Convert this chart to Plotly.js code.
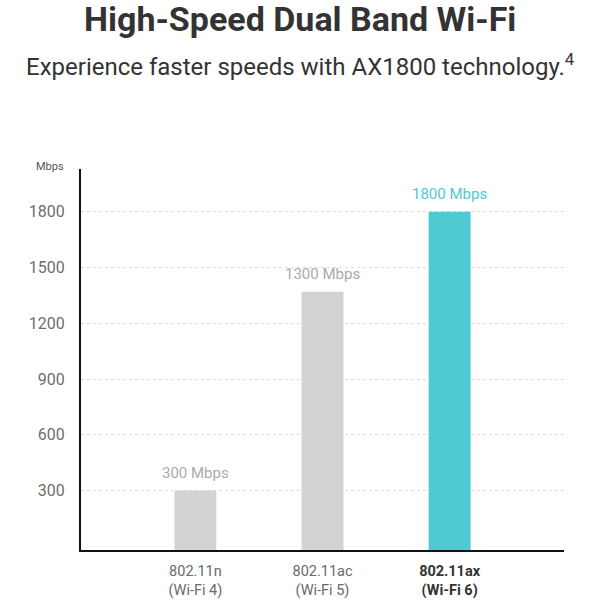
<!DOCTYPE html>
<html>
<head>
<meta charset="utf-8">
<script src="https://cdn.plot.ly/plotly-3.0.1.min.js"></script>
<style>html,body{margin:0;padding:0;background:#fff;}#chart{width:600px;height:600px;}</style>
</head>
<body>
<div id="chart"></div>
<script>
const categories = ["802.11n", "802.11ac", "802.11ax"];
const tickLabels = ["802.11n<br>(Wi-Fi 4)", "802.11ac<br>(Wi-Fi 5)", "<b><span style=\"color:#333\">802.11ax<br>(Wi-Fi 6)</span></b>"];
const speeds = [300, 1370, 1800];
const valueLabels = ["300 Mbps", "1300 Mbps", "1800 Mbps"];
const barColors = ["#d3d3d3", "#d3d3d3", "#4ecad3"];
const labelColors = ["#aaaaaa", "#aaaaaa", "#4ecad3"];
const yTicks = [300, 600, 900, 1200, 1500, 1800];
const yRange = [-20, 2030];

const trace = {
  type: "bar",
  x: categories,
  y: speeds.map(v => v - yRange[0]),
  base: yRange[0],
  width: 0.33,
  marker: {color: barColors},
  hoverinfo: "none"
};

const barLabels = categories.map((c, i) => ({
  text: valueLabels[i], x: c, y: speeds[i], xref: "x", yref: "y",
  xanchor: "center", yanchor: "bottom", yshift: 7, showarrow: false,
  font: {family: "Roboto", size: 15, color: labelColors[i]}
}));

const layout = {
  width: 600, height: 600,
  margin: {l: 81, r: 36, t: 169, b: 50},
  paper_bgcolor: "#fff", plot_bgcolor: "#fff",
  showlegend: false,
  font: {family: "Roboto", color: "#666"},
  xaxis: {
    type: "category",
    range: [-0.9, 2.9],
    tickvals: categories,
    ticktext: tickLabels,
    tickfont: {family: "Roboto", size: 14.5, color: "#6a6a6a"},
    ticklabelstandoff: 7,
    showline: true, linecolor: "#111", linewidth: 2,
    showgrid: false, ticks: "", fixedrange: true
  },
  yaxis: {
    range: yRange,
    tickvals: yTicks,
    ticktext: yTicks.map(String),
    tickfont: {family: "Roboto", size: 16, color: "#6e6e6e"},
    ticklabelstandoff: 11,
    showline: true, linecolor: "#111", linewidth: 2,
    showgrid: true, gridcolor: "#dcdcdc", gridwidth: 1, griddash: "dot",
    zeroline: false, ticks: "", fixedrange: true
  },
  annotations: [
    {text: "High-Speed Dual Band Wi-Fi", xref: "paper", yref: "paper", x: 0.5, y: 1, xanchor: "center", yanchor: "middle",
     yshift: 169 - 19, xshift: (300 - (81 + 483 / 2)), showarrow: false,
     font: {family: "Roboto", size: 34, color: "#333", weight: "bold"}},
    {text: "Experience faster speeds with AX1800 technology.<sup style=\"font-size:60%\">4</sup>", xref: "paper", yref: "paper", x: 0.5, y: 1, xanchor: "center", yanchor: "middle",
     yshift: 169 - 65, xshift: (300 - (81 + 483 / 2)), showarrow: false,
     font: {family: "Roboto", size: 24, color: "#333"}},
    {text: "Mbps", xref: "paper", yref: "paper", x: 0, y: 1, xanchor: "right", yanchor: "middle",
     xshift: -15, yshift: 3, showarrow: false,
     font: {family: "Roboto", size: 11, color: "#555"}}
  ].concat(barLabels)
};

Plotly.newPlot("chart", [trace], layout, {displayModeBar: false, staticPlot: true});
</script>
</body>
</html>
